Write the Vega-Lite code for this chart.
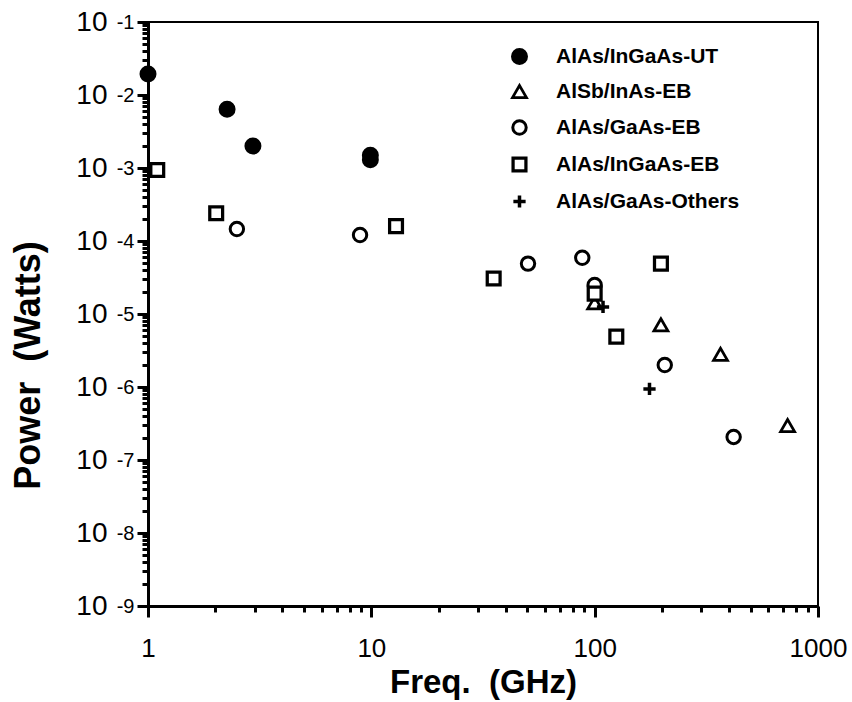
{
  "$schema": "https://vega.github.io/schema/vega-lite/v6.json",
  "width": 670,
  "height": 584,
  "autosize": {"type": "none"},
  "padding": {"left": 148, "top": 22, "right": 34, "bottom": 96},
  "background": "white",
  "config": {
    "view": {"stroke": "black", "strokeWidth": 2},
    "font": "Liberation Sans",
    "axis": {"grid": false}
  },
  "data": {
    "values": [
      {"series": "AlAs/InGaAs-UT", "freq": 1.0, "power": 0.0194},
      {"series": "AlAs/InGaAs-UT", "freq": 2.26, "power": 0.0064},
      {"series": "AlAs/InGaAs-UT", "freq": 2.95, "power": 0.002},
      {"series": "AlAs/InGaAs-UT", "freq": 9.9, "power": 0.0015},
      {"series": "AlAs/InGaAs-UT", "freq": 9.9, "power": 0.0013},
      {"series": "AlSb/InAs-EB", "freq": 100, "power": 1.42e-5},
      {"series": "AlSb/InAs-EB", "freq": 198, "power": 7.1e-6},
      {"series": "AlSb/InAs-EB", "freq": 366, "power": 2.8e-6},
      {"series": "AlSb/InAs-EB", "freq": 731, "power": 2.97e-7},
      {"series": "AlAs/GaAs-EB", "freq": 2.5, "power": 1.46e-4},
      {"series": "AlAs/GaAs-EB", "freq": 8.9, "power": 1.21e-4},
      {"series": "AlAs/GaAs-EB", "freq": 50.3, "power": 4.9e-5},
      {"series": "AlAs/GaAs-EB", "freq": 88, "power": 5.9e-5},
      {"series": "AlAs/GaAs-EB", "freq": 100, "power": 2.5e-5},
      {"series": "AlAs/GaAs-EB", "freq": 206, "power": 2.0e-6},
      {"series": "AlAs/GaAs-EB", "freq": 419, "power": 2.07e-7},
      {"series": "AlAs/InGaAs-EB", "freq": 1.1, "power": 9.4e-4},
      {"series": "AlAs/InGaAs-EB", "freq": 2.02, "power": 2.4e-4},
      {"series": "AlAs/InGaAs-EB", "freq": 12.9, "power": 1.6e-4},
      {"series": "AlAs/InGaAs-EB", "freq": 35.3, "power": 3.06e-5},
      {"series": "AlAs/InGaAs-EB", "freq": 100, "power": 1.9e-5},
      {"series": "AlAs/InGaAs-EB", "freq": 125, "power": 4.9e-6},
      {"series": "AlAs/InGaAs-EB", "freq": 198, "power": 4.9e-5},
      {"series": "AlAs/GaAs-Others", "freq": 109, "power": 1.25e-5},
      {"series": "AlAs/GaAs-Others", "freq": 176, "power": 9.4e-7}
    ]
  },
  "resolve": {"axis": {"x": "independent", "y": "independent"}},
  "layer": [
    {
      "mark": {"type": "point", "filled": true, "opacity": 1},
      "encoding": {
        "x": {
          "field": "freq", "type": "quantitative",
          "scale": {"type": "log", "domain": [1, 1000], "nice": false},
          "axis": {
            "orient": "bottom",
            "values": [1, 10, 100, 1000],
            "format": "d",
            "title": "Freq. \u00a0(GHz)",
            "titleFont": "Liberation Sans", "titleFontSize": 33, "titleFontWeight": "bold", "titleColor": "black",
            "titleBaseline": "middle", "titleY": 76,
            "labelFont": "Liberation Sans", "labelFontSize": 26, "labelColor": "black", "labelPadding": 18,
            "labelFlush": false, "labelOverlap": false,
            "domainColor": "black", "domainWidth": 3,
            "tickColor": "black", "tickWidth": 3, "tickSize": 11
          }
        },
        "y": {
          "field": "power", "type": "quantitative",
          "scale": {"type": "log", "domain": [1e-9, 0.1], "nice": false},
          "axis": {
            "orient": "left",
            "values": [1e-9, 1e-8, 1e-7, 1e-6, 1e-5, 1e-4, 1e-3, 1e-2, 1e-1],
            "labelExpr": "'10'",
            "title": "Power \u00a0(Watts)",
            "titleFont": "Liberation Sans", "titleFontSize": 36, "titleFontWeight": "bold", "titleColor": "black",
            "titleBaseline": "middle", "titleX": -120, "titleY": 343, "titleAngle": -90,
            "labelFont": "Liberation Sans", "labelFontSize": 28, "labelColor": "black", "labelPadding": 30,
            "labelDy": 4, "labelFlush": false, "labelOverlap": false,
            "domainColor": "black", "domainWidth": 3,
            "tickColor": "black", "tickWidth": 3, "tickSize": 11
          }
        },
        "shape": {
          "field": "series", "type": "nominal",
          "scale": {
            "domain": ["AlAs/InGaAs-UT", "AlSb/InAs-EB", "AlAs/GaAs-EB", "AlAs/InGaAs-EB", "AlAs/GaAs-Others"],
            "range": ["circle", "triangle-up", "circle", "square", "M-1,0H1M0,-1V1"]
          },
          "legend": {
            "title": null, "orient": "none", "legendX": 361, "legendY": 24,
            "padding": 0, "rowPadding": 10, "labelOffset": 26,
            "labelFont": "Liberation Sans", "labelFontSize": 21, "labelFontWeight": "bold", "labelColor": "black",
            "labelLimit": 400
          }
        },
        "fill": {
          "field": "series", "type": "nominal",
          "scale": {
            "domain": ["AlAs/InGaAs-UT", "AlSb/InAs-EB", "AlAs/GaAs-EB", "AlAs/InGaAs-EB", "AlAs/GaAs-Others"],
            "range": ["black", "white", "white", "white", "white"]
          }
        },
        "stroke": {
          "field": "series", "type": "nominal",
          "scale": {
            "domain": ["AlAs/InGaAs-UT", "AlSb/InAs-EB", "AlAs/GaAs-EB", "AlAs/InGaAs-EB", "AlAs/GaAs-Others"],
            "range": ["black", "black", "black", "black", "black"]
          }
        },
        "size": {
          "field": "series", "type": "nominal",
          "scale": {
            "domain": ["AlAs/InGaAs-UT", "AlSb/InAs-EB", "AlAs/GaAs-EB", "AlAs/InGaAs-EB", "AlAs/GaAs-Others"],
            "range": [210, 150, 180, 150, 270]
          }
        },
        "strokeWidth": {
          "field": "series", "type": "nominal",
          "scale": {
            "domain": ["AlAs/InGaAs-UT", "AlSb/InAs-EB", "AlAs/GaAs-EB", "AlAs/InGaAs-EB", "AlAs/GaAs-Others"],
            "range": [2.5, 3.5, 2.6, 2.6, 3.3]
          }
        }
      }
    },
    {
      "mark": {"type": "point", "opacity": 0},
      "encoding": {
        "x": {
          "field": "freq", "type": "quantitative",
          "scale": {"type": "log", "domain": [1, 1000], "nice": false},
          "axis": {
            "orient": "bottom",
            "values": [2, 3, 4, 5, 6, 7, 8, 9, 20, 30, 40, 50, 60, 70, 80, 90, 200, 300, 400, 500, 600, 700, 800, 900],
            "labels": false, "domain": false, "title": null,
            "tickColor": "black", "tickWidth": 3, "tickSize": 6
          }
        },
        "y": {
          "field": "power", "type": "quantitative",
          "scale": {"type": "log", "domain": [1e-9, 0.1], "nice": false},
          "axis": {
            "orient": "left",
            "values": [1e-9, 1e-8, 1e-7, 1e-6, 1e-5, 1e-4, 1e-3, 1e-2, 1e-1],
            "labelExpr": "'' + round(log(datum.value) / LN10)",
            "title": null, "domain": false,
            "labelFont": "Liberation Sans", "labelFontSize": 20, "labelColor": "black",
            "labelPadding": 3, "labelDy": -4, "labelFlush": false, "labelOverlap": false,
            "tickOpacity": 0, "tickSize": 11
          }
        }
      }
    },
    {
      "mark": {"type": "point", "opacity": 0},
      "encoding": {
        "x": {
          "field": "freq", "type": "quantitative",
          "scale": {"type": "log", "domain": [1, 1000], "nice": false},
          "axis": null
        },
        "y": {
          "field": "power", "type": "quantitative",
          "scale": {"type": "log", "domain": [1e-9, 0.1], "nice": false},
          "axis": {
            "orient": "left",
            "values": [2e-9, 3e-9, 4e-9, 5e-9, 6e-9, 7e-9, 8e-9, 9e-9,
                       2e-8, 3e-8, 4e-8, 5e-8, 6e-8, 7e-8, 8e-8, 9e-8,
                       2e-7, 3e-7, 4e-7, 5e-7, 6e-7, 7e-7, 8e-7, 9e-7,
                       2e-6, 3e-6, 4e-6, 5e-6, 6e-6, 7e-6, 8e-6, 9e-6,
                       2e-5, 3e-5, 4e-5, 5e-5, 6e-5, 7e-5, 8e-5, 9e-5,
                       2e-4, 3e-4, 4e-4, 5e-4, 6e-4, 7e-4, 8e-4, 9e-4,
                       2e-3, 3e-3, 4e-3, 5e-3, 6e-3, 7e-3, 8e-3, 9e-3,
                       0.02, 0.03, 0.04, 0.05, 0.06, 0.07, 0.08, 0.09],
            "labels": false, "domain": false, "title": null,
            "tickColor": "black", "tickWidth": 3, "tickSize": 6
          }
        }
      }
    }
  ]
}
